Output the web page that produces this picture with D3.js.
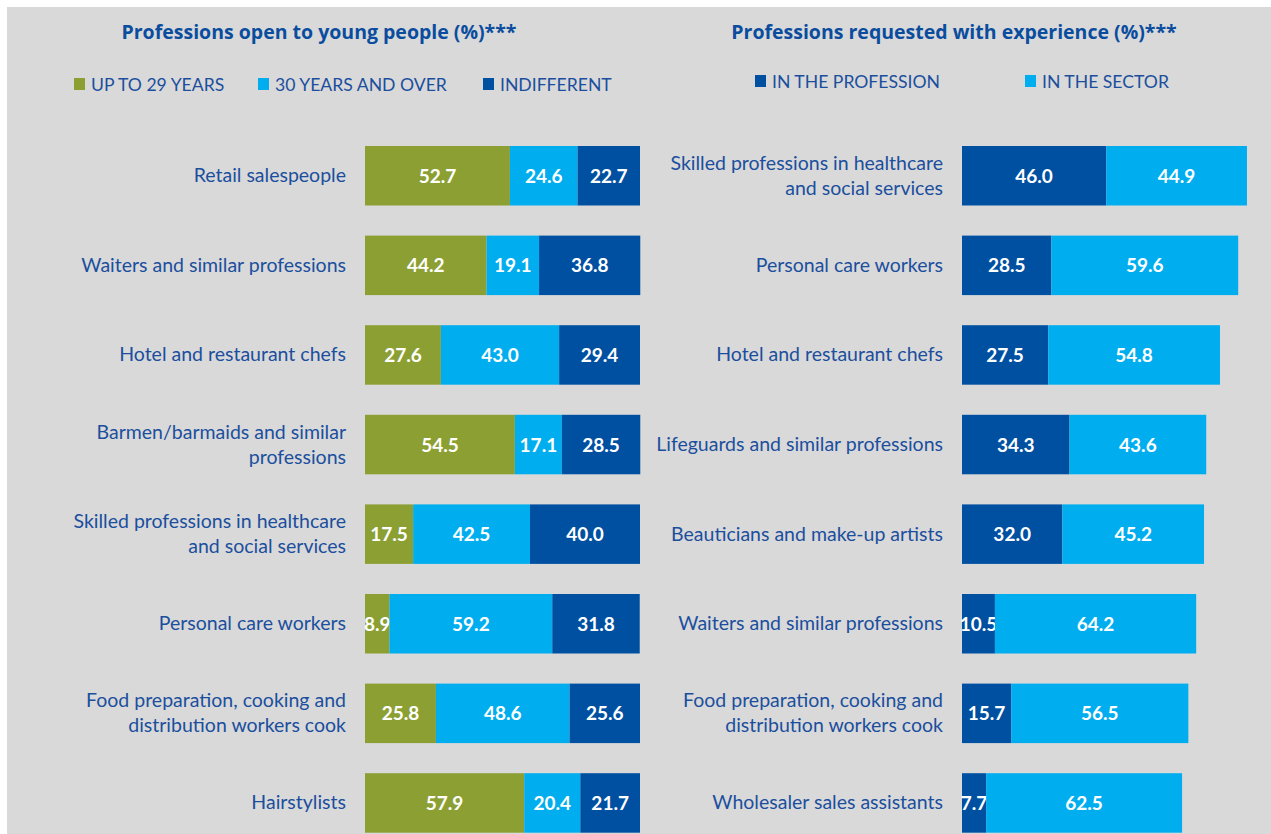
<!DOCTYPE html>
<html><head><meta charset="utf-8">
<script src="https://cdn.jsdelivr.net/npm/d3@7"></script>
<style>
html,body{margin:0;padding:0;background:#fff;}
svg{display:block;font-family:Lato, "Open Sans", sans-serif;}
</style></head>
<body>
<svg id="c" width="1271" height="834"></svg>
<script>
// ---------- DATA ----------
const leftTitle = "Professions open to young people (%)***";
const rightTitle = "Professions requested with experience (%)***";
const leftSeriesNames = ["UP TO 29 YEARS", "30 YEARS AND OVER", "INDIFFERENT"];
const rightSeriesNames = ["IN THE PROFESSION", "IN THE SECTOR"];
const leftCategories = [
  "Retail salespeople",
  "Waiters and similar professions",
  "Hotel and restaurant chefs",
  "Barmen/barmaids and similar\nprofessions",
  "Skilled professions in healthcare\nand social services",
  "Personal care workers",
  "Food preparation, cooking and\ndistribution workers cook",
  "Hairstylists"
];
const upTo29 = [52.7, 44.2, 27.6, 54.5, 17.5, 8.9, 25.8, 57.9];
const over30 = [24.6, 19.1, 43.0, 17.1, 42.5, 59.2, 48.6, 20.4];
const indifferent = [22.7, 36.8, 29.4, 28.5, 40.0, 31.8, 25.6, 21.7];

const rightCategories = [
  "Skilled professions in healthcare\nand social services",
  "Personal care workers",
  "Hotel and restaurant chefs",
  "Lifeguards and similar professions",
  "Beauticians and make-up artists",
  "Waiters and similar professions",
  "Food preparation, cooking and\ndistribution workers cook",
  "Wholesaler sales assistants"
];
const inProfession = [46.0, 28.5, 27.5, 34.3, 32.0, 10.5, 15.7, 7.7];
const inSector = [44.9, 59.6, 54.8, 43.6, 45.2, 64.2, 56.5, 62.5];

// ---------- STYLE ----------
const OLIVE = "#8c9f33", LIGHT = "#00aeef", DARK = "#0050a2";
const TEXT = "#1b4f9e", TITLE = "#0a4d9e", BG = "#d9d9d9";
const OPEN = "'Open Sans', Lato, sans-serif";

const svg = d3.select("#c");
svg.append("rect").attr("x", 7).attr("y", 7).attr("width", 1264).attr("height", 827).attr("fill", BG);

function panel(opts) {
  const g = svg.append("g");
  const x = d3.scaleLinear().domain([0, 100]).range([opts.x0, opts.x0 + opts.w100]);
  const y = d3.scaleBand().domain(opts.cats.map((d, i) => i))
    .range([146, 832.7]).paddingInner(0.336).paddingOuter(0);
  const rows = opts.cats.map((c, i) => {
    const vals = opts.series.map(s => s[i]);
    return {i, c, vals};
  });
  const stack = d3.stack().keys(opts.series.map((s, k) => k))
    (rows.map(r => Object.fromEntries(r.vals.map((v, k) => [k, v]))));

  // title
  g.append("text").attr("x", opts.titleX).attr("y", 39).attr("text-anchor", "middle")
    .attr("fill", TITLE).attr("font-weight", 700).attr("font-size", 19.5)
    .style("font-family", OPEN).text(opts.title);

  // legend
  opts.legend.forEach((L, k) => {
    g.append("rect").attr("x", L.x).attr("y", opts.legY - 6).attr("width", 11).attr("height", 12).attr("fill", opts.colors[k]);
    g.append("text").attr("x", L.x + 17).attr("y", opts.legY + 6.5).attr("fill", TEXT)
      .attr("font-size", 17.6).text(opts.names[k]);
  });

  // bars
  stack.forEach((layer, k) => {
    const lg = g.append("g");
    lg.selectAll("rect").data(layer).join("rect")
      .attr("x", d => x(d[0])).attr("width", d => x(d[1]) - x(d[0]))
      .attr("y", (d, i) => y(i)).attr("height", y.bandwidth())
      .attr("fill", opts.colors[k]);
    lg.selectAll("text").data(layer).join("text")
      .attr("x", d => (x(d[0]) + x(d[1])) / 2)
      .attr("y", (d, i) => y(i) + y.bandwidth() / 2 + 7)
      .attr("text-anchor", "middle").attr("fill", "#fff").attr("font-weight", 700)
      .attr("font-size", 19).text(d => d3.format(".1f")(d[1] - d[0]));
  });

  // category labels
  rows.forEach(r => {
    const lines = r.c.split("\n");
    const cy = y(r.i) + y.bandwidth() / 2;
    const t = g.append("text").attr("text-anchor", "end").attr("fill", TEXT)
      .attr("font-size", 19.5);
    lines.forEach((ln, j) => {
      t.append("tspan").attr("x", opts.x0 - 19)
        .attr("y", cy + 6.5 + (j - (lines.length - 1) / 2) * 25).text(ln);
    });
  });
}

panel({
  title: leftTitle, titleX: 319, cats: leftCategories,
  series: [upTo29, over30, indifferent], colors: [OLIVE, LIGHT, DARK],
  names: leftSeriesNames, x0: 365, w100: 275, legY: 84,
  legend: [{x: 74}, {x: 258}, {x: 483}]
});
panel({
  title: rightTitle, titleX: 954, cats: rightCategories,
  series: [inProfession, inSector], colors: [DARK, LIGHT],
  names: rightSeriesNames, x0: 962, w100: 313.5, legY: 81,
  legend: [{x: 755}, {x: 1025}]
});
</script>
</body></html>
